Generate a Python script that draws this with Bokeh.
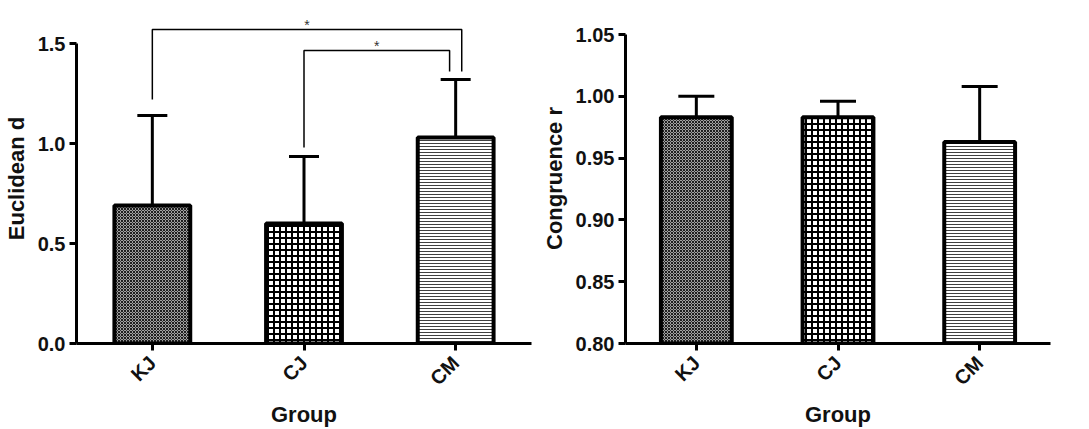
import math
from bokeh.plotting import figure
from bokeh.models import (ColumnDataSource, FactorRange, Whisker, TeeHead, FixedTicker,
                          NumeralTickFormatter)
from bokeh.layouts import row
from bokeh.embed import file_html
from bokeh.resources import INLINE
from bokeh.core.properties import value

# ---------------- data ----------------
groups = ["KJ", "CJ", "CM"]

euclid_mean = [0.69, 0.60, 1.03]
euclid_sd = [0.45, 0.335, 0.29]

congr_mean = [0.983, 0.983, 0.963]
congr_sd = [0.017, 0.013, 0.045]

euclid_ticks = [0.0, 0.5, 1.0, 1.5]
congr_ticks = [0.80, 0.85, 0.90, 0.95, 1.00, 1.05]

# significance brackets (left chart)
sig_left = ["KJ", "CJ"]
sig_right = ["CM", "CM"]
sig_height = [1.57, 1.465]
sig_left_end = [1.22, 0.98]
sig_right_end = [1.36, 1.36]
sig_label = ["*", "*"]

# ---------------- style ----------------
FONT = "Liberation Sans"
TICK_SIZE = "20px"
LABEL_SIZE = "22px"
right_leg_shift = [0.04, -0.04]

hatch_style = {
    "KJ": dict(fill_color="#a0a0a0", hatch_pattern="diagonal_cross", hatch_scale=3,
               hatch_weight=1, hatch_color="#1e1e1e"),
    "CJ": dict(fill_color="white", hatch_pattern="cross", hatch_scale=6,
               hatch_weight=2, hatch_color="black"),
    "CM": dict(fill_color="white", hatch_pattern="horizontal_line", hatch_scale=3,
               hatch_weight=1, hatch_color="#404040"),
}


def style_axes(p, ylabel, ticks, fmt, bounds):
    p.xaxis.axis_label = "Group"
    p.yaxis.axis_label = ylabel
    p.yaxis.ticker = FixedTicker(ticks=ticks)
    p.yaxis.formatter = NumeralTickFormatter(format=fmt)
    p.yaxis.bounds = bounds
    p.xaxis.major_label_orientation = math.pi / 4
    for ax in (p.xaxis, p.yaxis):
        ax.axis_line_width = 3
        ax.axis_line_color = "black"
        ax.major_tick_line_width = 3
        ax.major_tick_line_color = "black"
        ax.major_tick_in = 0
        ax.major_tick_out = 7
        ax.minor_tick_line_color = None
        ax.major_label_text_font = FONT
        ax.major_label_text_font_style = "bold"
        ax.major_label_text_font_size = TICK_SIZE
        ax.major_label_text_color = "#111111"
        ax.axis_label_text_font = FONT
        ax.axis_label_text_font_style = "bold"
        ax.axis_label_text_font_size = LABEL_SIZE
        ax.axis_label_text_color = "#111111"
        ax.major_label_standoff = 4
        ax.axis_label_standoff = 6
    p.xaxis.major_label_standoff = 9
    p.xaxis.axis_label_standoff = 2
    p.xgrid.grid_line_color = None
    p.ygrid.grid_line_color = None
    p.outline_line_color = None


def draw_bars(p, means, sds, base, cap):
    for g, m in zip(groups, means):
        src = ColumnDataSource(dict(x=[g], top=[m]))
        p.vbar(x="x", top="top", bottom=base, width=0.5, source=src,
               line_color="black", line_width=4, **hatch_style[g])
    wsrc = ColumnDataSource(dict(x=groups, lower=means,
                                 upper=[m + s for m, s in zip(means, sds)]))
    w = Whisker(base="x", lower="lower", upper="upper", source=wsrc,
                line_width=3, line_color="black",
                upper_head=TeeHead(size=cap, line_width=3, line_color="black"),
                lower_head=None, level="underlay")
    p.add_layout(w)


# ---------------- left chart ----------------
p1 = figure(x_range=FactorRange(*groups, range_padding=0), y_range=(0, 1.65),
            frame_width=455, frame_height=330, output_backend="svg",
            toolbar_location=None, min_border_left=70, min_border_top=13,
            min_border_right=7, min_border_bottom=74, background_fill_color="white")
style_axes(p1, "Euclidean d", euclid_ticks, "0.0", (0, 1.5))
draw_bars(p1, euclid_mean, euclid_sd, 0, 30)

pos = {g: i + 0.5 for i, g in enumerate(groups)}
xs, ys, sx, sy = [], [], [], []
for l, r, h, le, re, sh in zip(sig_left, sig_right, sig_height, sig_left_end,
                               sig_right_end, right_leg_shift):
    xl, xr = pos[l], pos[r] + sh
    xs.append([xl, xl, xr, xr])
    ys.append([le, h, h, re])
    sx.append((xl + xr) / 2)
    sy.append(h)
p1.multi_line(xs=xs, ys=ys, line_color="black", line_width=1.5)
p1.text(x=sx, y=sy, text=sig_label, text_align="center", text_baseline="bottom",
        text_font=value(FONT), text_font_size="14px", text_color="#333333",
        y_offset=3)

# ---------------- right chart ----------------
p2 = figure(x_range=FactorRange(*groups, range_padding=0), y_range=(0.80, 1.067),
            frame_width=425, frame_height=330, output_backend="svg",
            toolbar_location=None, min_border_left=87, min_border_top=13,
            min_border_right=20, min_border_bottom=74, background_fill_color="white")
style_axes(p2, "Congruence r", congr_ticks, "0.00", (0.80, 1.05))
draw_bars(p2, congr_mean, congr_sd, 0.80, 36)

layout = row(p1, p2)
open("out.html", "w").write(file_html(layout, INLINE))
